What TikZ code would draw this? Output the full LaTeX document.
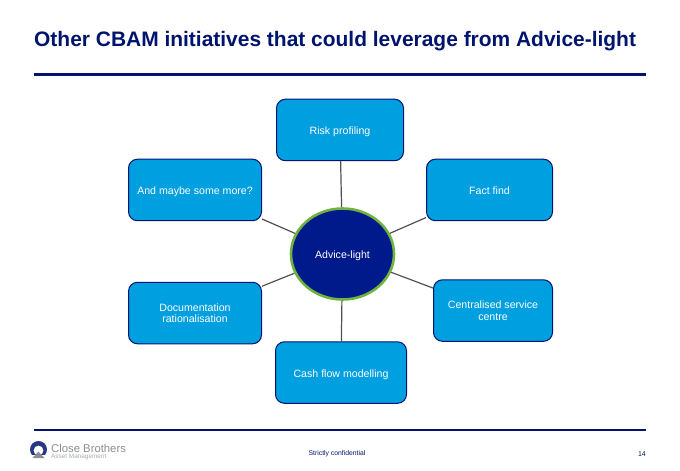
\documentclass[tikz,border=0pt]{standalone}
\usepackage{fontspec}
\setmainfont{Liberation Sans}
\usepackage{xcolor}
\usepackage{tikz}
\usetikzlibrary{positioning,shapes.geometric}
\definecolor{navy}{HTML}{00146E}
\definecolor{sky}{HTML}{009FDF}
\definecolor{hubblue}{HTML}{001A8C}
\definecolor{leaf}{HTML}{6FB23F}
\definecolor{spoke}{HTML}{505050}
\definecolor{logogrey}{HTML}{8A8D92}

\begin{document}
\begin{tikzpicture}[
  x=1pt, y=-1pt,
  font=\fontsize{10.6}{11.6}\selectfont,
  box/.style={draw=navy, line width=1pt, rounded corners=9pt, fill=sky, text=white, align=center,
              inner sep=0pt, minimum height=61.5pt},
  oneline/.style={text height=10pt, text depth=0pt},
  hubnode/.style={ellipse, draw=leaf, line width=2.6pt, fill=hubblue, text=white,
              inner sep=0pt, minimum width=103pt, minimum height=91pt},
  spokeline/.style={draw=spoke, line width=1.2pt},
  rule/.style={draw=navy, line width=2.4pt}
]
  \useasboundingbox (0,0) rectangle (680,471);

  \node[anchor=west, font=\fontsize{20.95}{25}\selectfont\bfseries, text=navy, inner sep=0pt] (title) at (34,41)
    {Other CBAM initiatives that could leverage from Advice-light};
  \draw[rule] (34,74.5) -- (646,74.5);
  \draw[rule] (34,430) -- (646,430);

  \node[hubnode, text height=8pt, text depth=0pt] (hub) at (342.5,254) {Advice-light};
  \node[box, oneline, minimum width=127pt, above=46pt of hub, xshift=-2.5pt] (risk) {Risk profiling};
  \node[box, oneline, minimum width=131pt, below=40.5pt of hub, xshift=-1.5pt] (cash) {Cash flow modelling};
  \node[box, oneline, minimum width=126pt, right=22pt of risk, yshift=-60pt] (fact) {Fact find};
  \node[box, minimum width=119pt, right=26pt of cash, yshift=62pt] (centre) {Centralised service\\centre};
  \node[box, oneline, minimum width=133pt, left=14pt of risk, yshift=-60pt] (more) {And maybe some more?};
  \node[box, minimum width=133pt, left=13pt of cash, yshift=59.5pt] (docs) {Documentation\\rationalisation};

  \draw[spokeline] (hub) -- (risk);
  \draw[spokeline] (hub) -- (fact);
  \draw[spokeline] (hub) -- (centre);
  \draw[spokeline] (hub) -- (cash);
  \draw[spokeline] (hub) -- (docs);
  \draw[spokeline] (hub) -- (more);

  % footer
  \fill[navy!85!white, even odd rule] (38.5,449.5) circle (8.5pt) (38.5,450.5) circle (5pt);
  \fill[white] (29,455) rectangle (48,459);
  \fill[logogrey] (32.5,458) -- (38.5,451.5) -- (44.5,458) -- cycle;
  \node[anchor=west, inner sep=0pt, text=logogrey, font=\fontsize{11.3}{13}\selectfont] (brand) at (51,448) {Close Brothers};
  \node[anchor=west, inner sep=0pt, text=logogrey!75!white, font=\fontsize{6.4}{7}\selectfont] (unit) at (51,456.5) {Asset Management};
  \node[inner sep=0pt, text=navy, font=\fontsize{6.8}{8}\selectfont] (conf) at (337,453.5) {Strictly confidential};
  \node[anchor=east, inner sep=0pt, text=navy, font=\fontsize{7}{8}\selectfont] (page) at (646,454) {14};
\end{tikzpicture}
\end{document}
